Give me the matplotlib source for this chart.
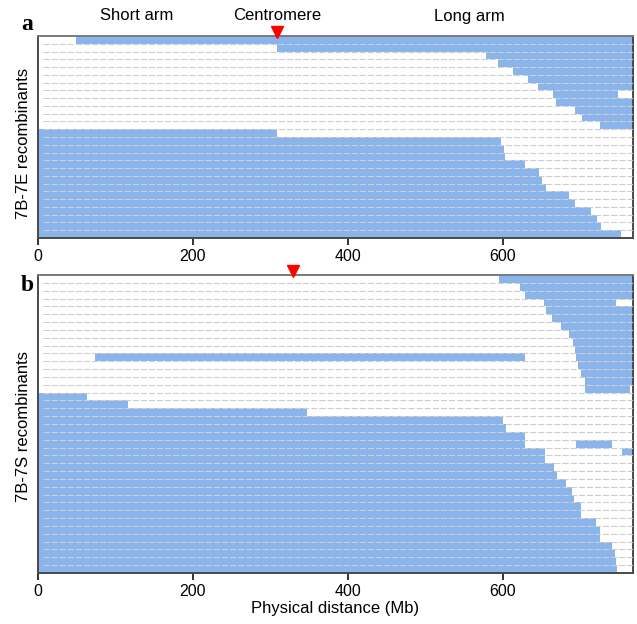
import matplotlib
matplotlib.use("Agg")
import matplotlib.pyplot as plt
from matplotlib.transforms import blended_transform_factory

plt.rcParams['font.family'] = ['Liberation Sans', 'DejaVu Sans']

# ---------------- data ----------------
END = 780          # segment reaching the chromosome end (clipped by axis)
X_MAX = 768        # x-axis limit (Mb)
xticks = [0, 200, 400, 600]

# 7B-7E recombinants: blue (alien) segments per row, (start, end) in Mb
rows_7E = [
    [(49, END)], [(308, END)], [(578, END)], [(594, END)], [(613, END)],
    [(633, END)], [(646, END)], [(665, 749)], [(668, END)], [(693, END)],
    [(702, END)], [(726, END)],
    [(0, 308)], [(0, 598)], [(0, 601)], [(0, 603)], [(0, 628)], [(0, 647)],
    [(0, 650)], [(0, 656)], [(0, 686)], [(0, 693)], [(0, 714)], [(0, 721)],
    [(0, 727)], [(0, 753)],
]

# 7B-7S recombinants
rows_7S = [
    [(595, END)], [(622, END)], [(628, END)], [(653, 746)], [(656, END)],
    [(664, END)], [(675, END)], [(686, END)], [(691, END)], [(693, END)],
    [(74, 628), (694, END)], [(697, END)], [(701, END)], [(706, END)],
    [(706, 764)],
    [(0, 63)], [(0, 116)], [(0, 347)],
    [(0, 600)], [(0, 604)], [(0, 628)], [(0, 628), (695, 741)],
    [(0, 655), (754, END)], [(0, 655)], [(0, 666)], [(0, 670)], [(0, 681)],
    [(0, 689)], [(0, 692)], [(0, 701)], [(0, 701)], [(0, 720)], [(0, 726)],
    [(0, 726)], [(0, 741)], [(0, 745)], [(0, 746)], [(0, 747)],
]

centromere_7E = 308
centromere_7S = 329

BLUE = '#8AB4EC'
SPINE = '#4a4a4a'

fig = plt.figure(figsize=(6.37, 6.24), dpi=100)
W, H = 637.0, 624.0
ax_a = fig.add_axes([38 / W, 1 - 238 / H, 595 / W, 202 / H])
ax_b = fig.add_axes([38 / W, 1 - 573 / H, 595 / W, 298 / H])


def draw_panel(ax, rows, cen):
    n = len(rows)
    for k, segs in enumerate(rows):
        ax.broken_barh([(s, e - s) for s, e in segs], (k, 1),
                       facecolor=BLUE, edgecolor='none')
    for k in range(1, n):
        ax.axhline(k, xmin=0.008, color='#cfcfcf', lw=0.8,
                   ls=(0, (5.5, 1.8)), zorder=3)
    ax.set_xlim(0, X_MAX)
    ax.set_ylim(n, 0)
    ax.set_yticks([])
    ax.set_xticks(xticks)
    ax.tick_params(axis='x', labelsize=11.5, length=5, width=1.3,
                   color='#222222', pad=3)
    for s in ax.spines.values():
        s.set_color(SPINE)
        s.set_linewidth(1.4)
    ax.spines['top'].set_color('#7a7a7a')
    tr = blended_transform_factory(ax.transData, ax.transAxes)
    ax.plot([cen], [1.0 + 4.5 / (ax.get_position().height * H)], marker='v',
            color='#ff0000', markersize=8, transform=tr, clip_on=False,
            zorder=5)
    return tr


tr_a = draw_panel(ax_a, rows_7E, centromere_7E)
tr_b = draw_panel(ax_b, rows_7S, centromere_7S)

# arm labels above panel a
ya = 1 + 20 / 202
for txt, xpos in zip(["Short arm", "Centromere", "Long arm"], [128, 309, 557]):
    ax_a.text(xpos, ya, txt, transform=tr_a, ha='center', va='center',
              fontsize=12)

# panel letters
fig.text(27 / W, 1 - 30 / H, 'a', fontsize=17, fontweight='bold',
         family='Liberation Serif', ha='center', va='baseline')
fig.text(27 / W, 1 - 291 / H, 'b', fontsize=17, fontweight='bold',
         family='Liberation Serif', ha='center', va='baseline')

# y labels
fig.text(24 / W, 1 - 143 / H, '7B-7E recombinants', rotation=90,
         ha='center', va='center', fontsize=12)
fig.text(24 / W, 1 - 426 / H, '7B-7S recombinants', rotation=90,
         ha='center', va='center', fontsize=12)

ax_b.set_xlabel('Physical distance (Mb)', fontsize=12, labelpad=1)

fig.savefig('out.png', dpi=100)
